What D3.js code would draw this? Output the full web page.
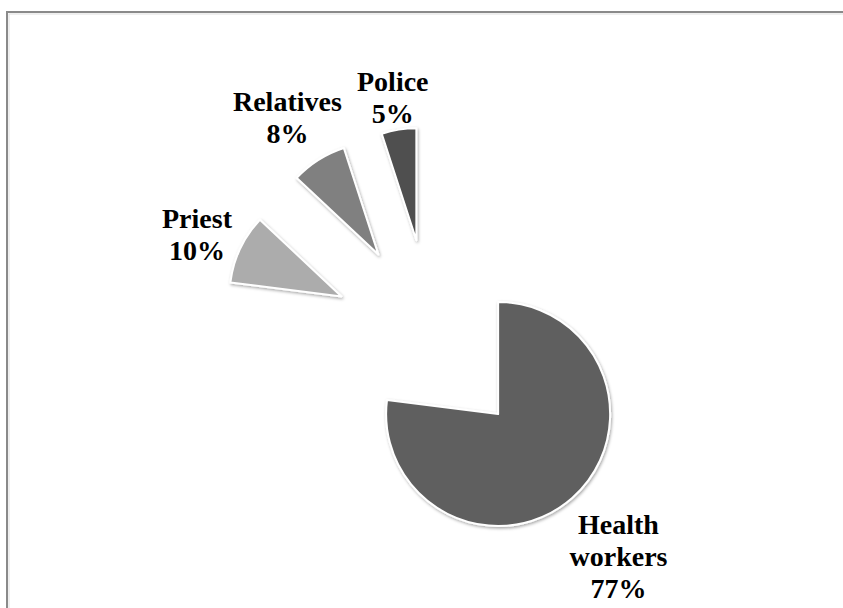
<!DOCTYPE html>
<html>
<head>
<meta charset="utf-8">
<script src="https://cdn.jsdelivr.net/npm/d3@7"></script>
<style>
  body { margin: 0; background: #fff; }
  svg { display: block; }
</style>
</head>
<body>
<div id="chart"></div>
<script>
var categories = ['Health workers', 'Priest', 'Relatives', 'Police']
var values = [77, 10, 8, 5]
var labelLines = [['Health', 'workers', '77%'], ['Priest', '10%'], ['Relatives', '8%'], ['Police', '5%']]
var colors = ['#5f5f5f', '#acacac', '#808080', '#4f4f4f']

var width = 843, height = 608
var cx = 432, cy = 339
var radius = 112
var explode = 100
var fontSize = 28, lineH = 32
var labelDy = 6

const svg = d3.select('#chart')
    .append('svg')
    .attr('width', width)
    .attr('height', height)

// frame of the chart area
svg.append('rect')
    .attr('x', 7).attr('y', 12)
    .attr('width', width).attr('height', height)
    .attr('fill', 'none')
    .attr('stroke', '#8a8a8a')
    .attr('stroke-width', 2)
svg.append('rect')
    .attr('x', 9).attr('y', 14)
    .attr('width', width).attr('height', height)
    .attr('fill', 'none')
    .attr('stroke', '#e0e0e0')
    .attr('stroke-width', 1)

var defs = svg.append('defs')
var shadow = defs.append('filter')
    .attr('id', 'shadow')
    .attr('x', '-20%').attr('y', '-20%')
    .attr('width', '140%').attr('height', '140%')
shadow.append('feDropShadow')
    .attr('dx', 1).attr('dy', 1.5)
    .attr('stdDeviation', 1.5)
    .attr('flood-color', '#000')
    .attr('flood-opacity', 0.35)

var data = categories.map((c, i) => ({ name: c, value: values[i], lines: labelLines[i], color: colors[i] }))

var pie = d3.pie()
    .sort(null)
    .value(d => d.value)
    .startAngle(0)
    .endAngle(2 * Math.PI)

var arc = d3.arc()
    .innerRadius(0)
    .outerRadius(radius)

var arcs = pie(data)

function dir(d) {
    var a = (d.startAngle + d.endAngle) / 2
    return [Math.sin(a), -Math.cos(a)]
}

var g = svg.append('g')
    .attr('transform', `translate(${cx},${cy})`)

g.selectAll('path.slice')
    .data(arcs)
    .join('path')
    .attr('class', 'slice')
    .attr('d', arc)
    .attr('fill', d => d.data.color)
    .attr('stroke', '#fff')
    .attr('stroke-width', 2)
    .attr('stroke-linejoin', 'round')
    .attr('filter', 'url(#shadow)')
    .attr('transform', d => {
        var v = dir(d)
        return `translate(${v[0] * explode},${v[1] * explode})`
    })

// labels outside the end of each exploded slice
var labels = g.selectAll('text.label')
    .data(arcs)
    .join('text')
    .attr('class', 'label')
    .attr('text-anchor', 'middle')
    .attr('font-family', '"Liberation Serif", "Times New Roman", serif')
    .attr('font-weight', 'bold')
    .attr('font-size', fontSize)
    .attr('fill', '#000')

labels.each(function (d) {
    var t = d3.select(this)
    d.data.lines.forEach((line, i) => {
        t.append('tspan')
            .attr('x', 0)
            .attr('dy', i === 0 ? 0 : lineH)
            .text(line)
    })
    var bb = this.getBBox()
    var v = dir(d)
    // distance from slice edge to box centre along the mid angle
    var ext = Math.abs(v[0]) * bb.width / 2 + Math.abs(v[1]) * bb.height / 2
    var r = explode + radius + 2 + ext
    var ox = v[0] * r - (bb.x + bb.width / 2)
    var oy = v[1] * r - (bb.y + bb.height / 2) + labelDy
    t.attr('transform', `translate(${ox},${oy})`)
})
</script>
</body>
</html>
